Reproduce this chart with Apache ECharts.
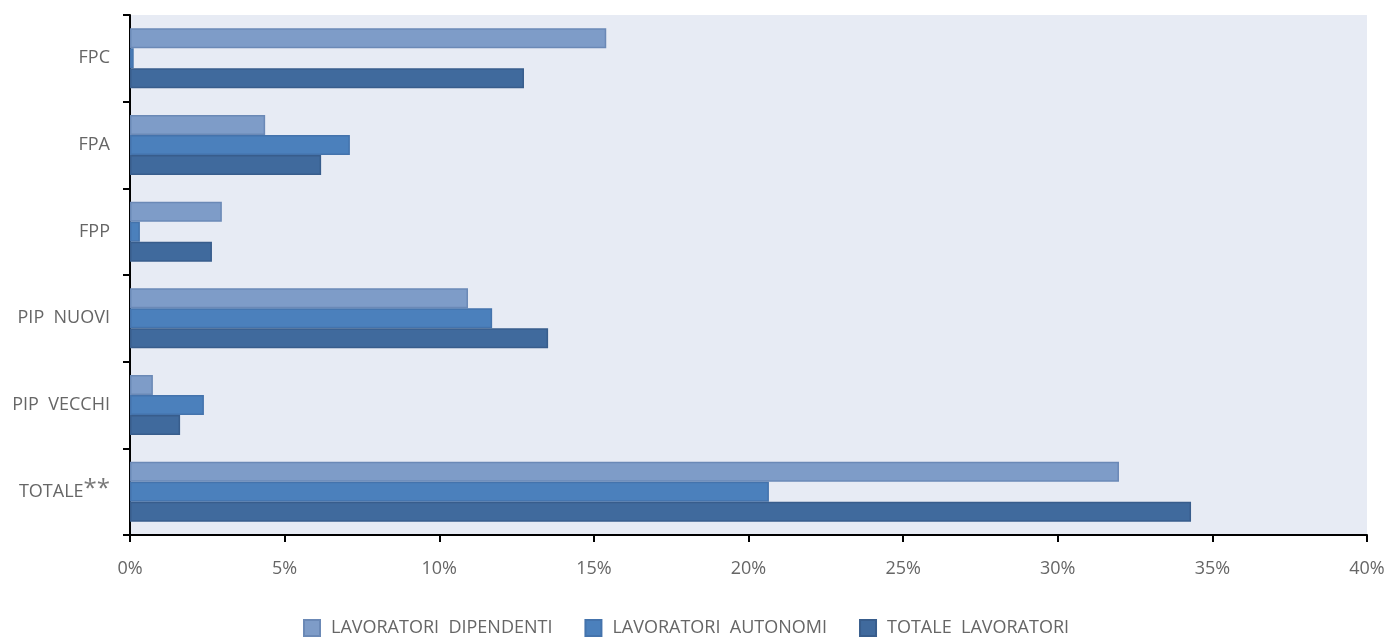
<!DOCTYPE html>
<html><head><meta charset="utf-8">
<script src="https://cdn.jsdelivr.net/npm/echarts@6/dist/echarts.min.js"></script>
<style>html,body{margin:0;padding:0;background:#fff}#c{width:1389px;height:640px}</style>
</head><body><div id="c"></div>
<script>
const categories = ['FPC', 'FPA', 'FPP', 'PIP NUOVI', 'PIP VECCHI', 'TOTALE**'];
const seriesNames = ['LAVORATORI DIPENDENTI', 'LAVORATORI AUTONOMI', 'TOTALE LAVORATORI'];
const dipendenti = [15.4, 4.37, 2.97, 10.93, 0.74, 31.98];
const autonomi = [0.12, 7.11, 0.32, 11.71, 2.39, 20.66];
const totale = [12.74, 6.18, 2.65, 13.52, 1.62, 34.31];
const xTicks = [0, 5, 10, 15, 20, 25, 30, 35, 40];

const colors = ['#7E9CC8', '#4B80BC', '#406A9D'];
const borders = ['#6B89B6', '#4473AC', '#385D8C'];
const FONT = '"Open Sans", Lato, sans-serif';

const chart = echarts.init(document.getElementById('c'), null, {renderer: 'canvas'});
const mk = (name, data, i) => ({
  name, type: 'bar', data,
  barWidth: 20,
  barGap: '0%',
  itemStyle: {color: colors[i], borderColor: borders[i], borderWidth: 1.5},
  emphasis: {disabled: true}
});
chart.setOption({
  animation: false,
  textStyle: {fontFamily: FONT},
  grid: {left: 130, right: 22, top: 15, bottom: 105, show: true, backgroundColor: '#E7EBF4', borderWidth: 0},
  legend: {
    top: 614, left: 298, itemWidth: 16, itemHeight: 16, itemGap: 32, padding: 5,
    icon: 'rect',
    textStyle: {color: '#666', fontSize: 18, fontFamily: FONT, padding: [0, 0, 0, 6]},
    formatter: n => n.replace(/ /g, '  '),
    data: seriesNames
  },
  xAxis: {
    type: 'value', min: xTicks[0], max: xTicks[xTicks.length - 1], interval: 5,
    axisLine: {show: true, lineStyle: {color: '#000', width: 2}},
    axisTick: {show: true, length: 7, lineStyle: {color: '#000', width: 2}},
    splitLine: {show: false},
    axisLabel: {color: '#666', fontSize: 18, margin: 25, formatter: v => v + '%', fontFamily: FONT}
  },
  yAxis: {
    type: 'category', data: categories, inverse: true,
    axisLine: {show: true, lineStyle: {color: '#000', width: 2}},
    axisTick: {show: true, length: 7, lineStyle: {color: '#000', width: 2}},
    axisLabel: {
      color: '#666', fontSize: 18, margin: 20, fontFamily: FONT,
      formatter: v => v === 'TOTALE**' ? 'TOTALE{sup|**}' : v.replace(' ', '  '),
      rich: {sup: {fontSize: 24, color: '#777', verticalAlign: 'bottom', padding: [0, 0, 6, 0], fontFamily: FONT}}
    }
  },
  series: [mk(seriesNames[0], dipendenti, 0), mk(seriesNames[1], autonomi, 1), mk(seriesNames[2], totale, 2)]
});
</script></body></html>
